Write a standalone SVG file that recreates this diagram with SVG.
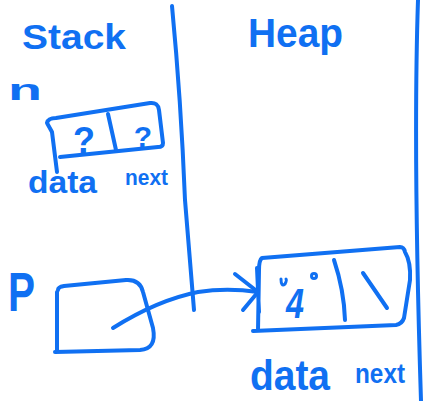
<svg xmlns="http://www.w3.org/2000/svg" width="425" height="401" viewBox="0 0 425 401">
  <style>
    .ink { fill: none; stroke: #1070F2; stroke-width: 4; stroke-linecap: round; stroke-linejoin: round; }
    .thin { fill: none; stroke: #1070F2; stroke-width: 3; stroke-linecap: round; stroke-linejoin: round; }
    .hand { fill: #1070F2; font-family: "Liberation Sans", "DejaVu Sans", sans-serif; font-weight: bold; }
  </style>
  <rect width="425" height="401" fill="#ffffff"/>

  <!-- column dividers -->
  <g id="dividers">
    <path class="ink" d="M172,6 Q181,100 185,200 L194,310"/>
    <path class="ink" d="M418,0 Q413,150 421,401"/>
  </g>

  <!-- section headings -->
  <g id="stack-label">
    <text class="hand" x="22" y="49" font-size="35" textLength="104" lengthAdjust="spacingAndGlyphs">Stack</text>
  </g>
  <g id="heap-label">
    <text class="hand" x="248" y="47" font-size="40" textLength="95" lengthAdjust="spacingAndGlyphs">Heap</text>
  </g>

  <!-- node n on the stack -->
  <g id="node-n">
    <text class="hand" x="8" y="100" font-size="30" textLength="34" lengthAdjust="spacingAndGlyphs">n</text>
    <path class="ink" d="M47,123 Q48,118 56,118 L150,103 Q158,102 159,110 L163,143 Q163,147 158,147 L60,157 M47,123 L52,132 L57,172"/>
    <path class="ink" d="M108,114 L116,150"/>
    <text class="hand" x="84" y="153" font-size="36" text-anchor="middle">?</text>
    <text class="hand" x="143" y="147" font-size="30" text-anchor="middle">?</text>
    <text class="hand" x="28" y="193" font-size="32" textLength="69" lengthAdjust="spacingAndGlyphs">data</text>
    <text class="hand" x="125" y="185" font-size="22" textLength="43" lengthAdjust="spacingAndGlyphs">next</text>
  </g>

  <!-- pointer p on the stack -->
  <g id="node-p">
    <text class="hand" x="8" y="311" font-size="56" textLength="27" lengthAdjust="spacingAndGlyphs">P</text>
    <path class="ink" d="M58,290 Q58,287 64,286 L126,280 Q140,279 143,292 L153,328 Q157,349 140,350 L55,352 M57,292 L57,352"/>
  </g>

  <!-- node on the heap -->
  <g id="node-heap">
    <path class="ink" d="M262,258 L400,247 Q404,247 405,252 Q411,262 410,280 L404,318 Q402,324 396,325 L253,331 M262,258 Q259,260 259,270 L258,331 M257,268 L259,312"/>
    <path class="ink" d="M334,260 Q344,290 345,320"/>
    <path class="ink" d="M363,273 L387,308"/>
    <text class="hand" x="286" y="318" font-size="42" font-style="italic" textLength="18" lengthAdjust="spacingAndGlyphs">4</text>
    <path class="thin" d="M281,279 Q281,287 285,284 Q287,280 286,279"/>
    <circle class="thin" cx="314" cy="276" r="2.5"/>
    <text class="hand" x="250" y="390" font-size="42" textLength="80" lengthAdjust="spacingAndGlyphs">data</text>
    <text class="hand" x="355" y="383" font-size="28" textLength="50" lengthAdjust="spacingAndGlyphs">next</text>
  </g>

  <!-- pointer from p to the heap node -->
  <g id="connectors">
    <path class="ink" d="M113,328 C140,311 168,298 198,292 C224,288 244,290 258,292"/>
    <path class="ink" d="M235,274 L258,292 L243,310"/>
  </g>
</svg>
